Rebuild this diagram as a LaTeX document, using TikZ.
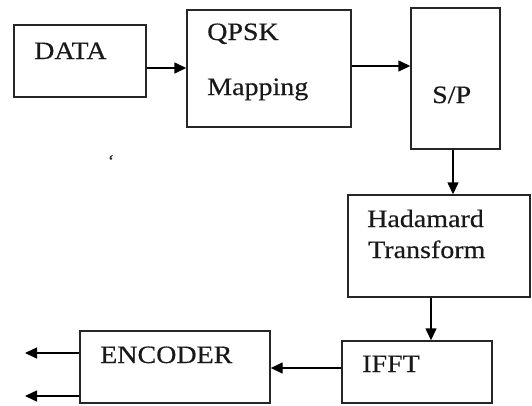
\documentclass[tikz,border=0pt]{standalone}
\usepackage{fontspec}
\setmainfont{Liberation Serif}[FakeStretch=1.12,FakeBold=0.4]
\usetikzlibrary{arrows.meta}
\begin{document}
\begin{tikzpicture}[x=1pt,y=-1pt,
  blk/.style={draw=black!85,line width=1.4pt,fill=white,inner sep=0pt},
  lbl/.style={anchor=base west,inner sep=0pt,font=\fontsize{25}{28}\selectfont,text=black!90},
  conn/.style={line width=1.4pt,-{Triangle[length=12pt,width=11pt]}}]
\useasboundingbox (0,0) rectangle (532,405);
% boxes
\node[blk,minimum width=132pt,minimum height=72pt] (data) at (80,61) {};
\node[blk,minimum width=164pt,minimum height=117pt] (qpsk) at (269,68.5) {};
\node[blk,minimum width=89pt,minimum height=141pt] (sp) at (455.5,78.5) {};
\node[blk,minimum width=182pt,minimum height=102pt] (had) at (439,246) {};
\node[blk,minimum width=150pt,minimum height=62pt] (ifft) at (417,372) {};
\node[blk,minimum width=190pt,minimum height=72pt] (enc) at (175,367) {};
% labels
\node[lbl] (tdata) at (34,59) {DATA};
\node[lbl] (tqpsk) at (207,40) {QPSK};
\node[lbl] (tmap) at (207,95) {Mapping};
\node[lbl] (tsp) at (432,103) {S/P};
\node[lbl] (thad) at (367,227) {Hadamard};
\node[lbl] (ttr) at (368,258) {Transform};
\node[lbl] (tenc) at (100,363) {ENCODER};
\node[lbl] (tifft) at (362,372) {IFFT};
\node[anchor=center,inner sep=0pt,font=\fontsize{18}{18}\selectfont,text=black!80] (tick) at (111,161) {`};
% free ends
\coordinate (o1) at (25,353);
\coordinate (o2) at (25,396);
% connectors
\draw[conn] (data.east |- 0,68) -- (qpsk.west |- 0,68);
\draw[conn] (qpsk.east |- 0,66) -- (sp.west |- 0,66);
\draw[conn] (sp.south -| 453,0) -- (had.north -| 453,0);
\draw[conn] (had.south -| 431,0) -- (ifft.north -| 431,0);
\draw[conn] (ifft.west |- 0,368) -- (enc.east |- 0,368);
\draw[conn] (enc.west |- o1) -- (o1);
\draw[conn] (enc.west |- o2) -- (o2);
\end{tikzpicture}
\end{document}
